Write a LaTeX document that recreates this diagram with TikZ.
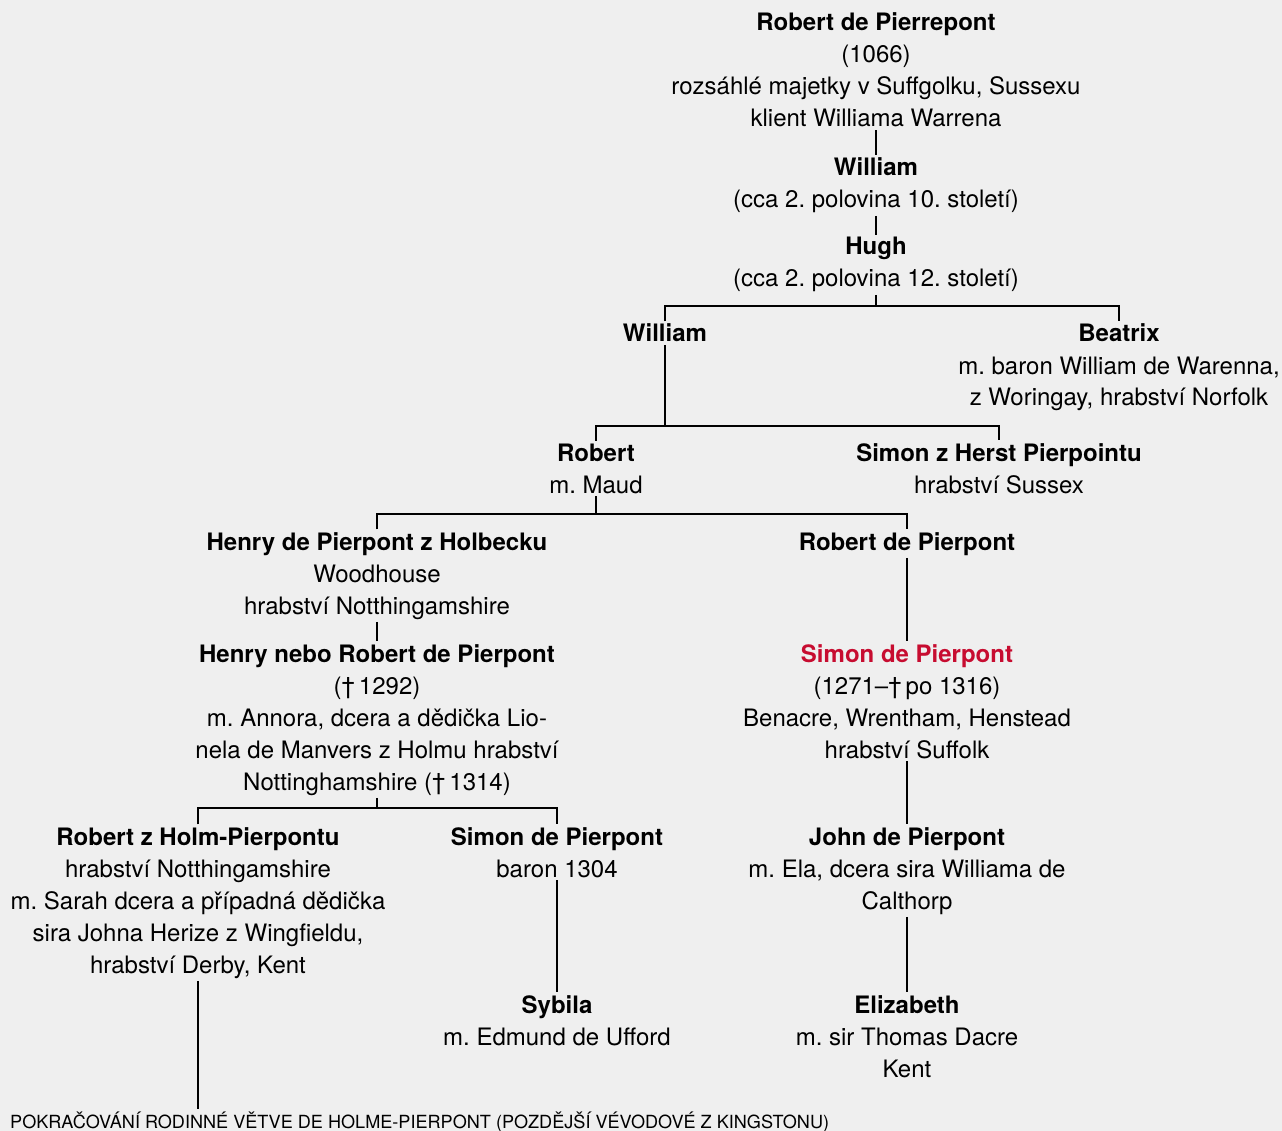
\documentclass[tikz,border=0pt]{standalone}
\usepackage{fontspec}
\setmainfont{TeX Gyre Heros}
\definecolor{bgcol}{HTML}{EFEFEF}
\definecolor{accent}{RGB}{199,12,48}
\frenchspacing
\begin{document}
\begin{tikzpicture}[x=1pt,y=-1pt,
  person/.style={align=center, anchor=base, inner xsep=0pt, inner ysep=2.5pt,
    font=\fontsize{24}{32}\selectfont\frenchspacing},
  link/.style={line width=2.4pt, draw=black}]
\fill[bgcol] (0,0) rectangle (1282,1131);
\useasboundingbox (0,0) rectangle (1282,1131);

% anchor=base of a multi-line node is the baseline of its last line
\node[person] (top) at (876,127) {\textbf{Robert de Pierrepont}\\(1066)\\rozsáhlé majetky v Suffgolku, Sussexu\\klient Williama Warrena};
\node[person] (william1) at (876,208) {\textbf{William}\\(cca 2. polovina 10. století)};
\node[person] (hugh) at (876,287) {\textbf{Hugh}\\(cca 2. polovina 12. století)};
\node[person] (william2) at (665,342) {\textbf{William}};
\node[person] (beatrix) at (1119,406) {\textbf{Beatrix}\\m. baron William de Warenna,\\z Woringay, hrabství Norfolk};
\node[person] (robert) at (596,493) {\textbf{Robert}\\m. Maud};
\node[person] (simonherst) at (999,493) {\textbf{Simon z Herst Pierpointu}\\hrabství Sussex};
\node[person] (henryh) at (377,614) {\textbf{Henry de Pierpont z Holbecku}\\Woodhouse\\hrabství Notthingamshire};
\node[person] (robertr) at (907,550) {\textbf{Robert de Pierpont}};
\node[person] (henryn) at (377,790) {\textbf{Henry nebo Robert de Pierpont}\\(†\,1292)\\m. Annora, dcera a dědička Lio-\\nela de Manvers z Holmu hrabství\\Nottinghamshire (†\,1314)};
\node[person] (simonred) at (907,758) {\textbf{\color{accent}Simon de Pierpont}\\(1271–†\,po 1316)\\Benacre, Wrentham, Henstead\\hrabství Suffolk};
\node[person] (robertholm) at (198,973) {\textbf{Robert z Holm-Pierpontu}\\hrabství Notthingamshire\\m. Sarah dcera a případná dědička\\sira Johna Herize z Wingfieldu,\\hrabství Derby, Kent};
\node[person] (simonbaron) at (557,877) {\textbf{Simon de Pierpont}\\baron 1304};
\node[person] (john) at (907,909) {\textbf{John de Pierpont}\\m. Ela, dcera sira Williama de\\Calthorp};
\node[person] (sybila) at (557,1045) {\textbf{Sybila}\\m. Edmund de Ufford};
\node[person] (elizabeth) at (907,1077) {\textbf{Elizabeth}\\m. sir Thomas Dacre\\Kent};
\node[anchor=base west, inner sep=2pt, font=\fontsize{18.1}{20}\selectfont] (cont) at (8,1128) {POKRAČOVÁNÍ RODINNÉ VĚTVE DE HOLME-PIERPONT (POZDĚJŠÍ VÉVODOVÉ Z KINGSTONU)};

\coordinate (bar1) at (0,306);
\coordinate (bar2) at (0,426);
\coordinate (bar3) at (0,514);
\coordinate (bar4) at (0,808);

\draw[link] (top.south) -- (william1.north);
\draw[link] (william1.south) -- (hugh.north);
\draw[link] (hugh.south) -- (hugh.south |- bar1);
\draw[link] (william2.north) -- (william2.north |- bar1) -- (beatrix.north |- bar1) -- (beatrix.north);
\draw[link] (william2.south) -- (william2.south |- bar2);
\draw[link] (robert.north) -- (robert.north |- bar2) -- (simonherst.north |- bar2) -- (simonherst.north);
\draw[link] (robert.south) -- (robert.south |- bar3);
\draw[link] (henryh.north) -- (henryh.north |- bar3) -- (robertr.north |- bar3) -- (robertr.north);
\draw[link] (henryh.south) -- (henryn.north);
\draw[link] (robertr.south) -- (simonred.north);
\draw[link] (henryn.south) -- (henryn.south |- bar4);
\draw[link] (robertholm.north) -- (robertholm.north |- bar4) -- (simonbaron.north |- bar4) -- (simonbaron.north);
\draw[link] (simonred.south) -- (john.north);
\draw[link] (simonbaron.south) -- (sybila.north);
\draw[link] (john.south) -- (elizabeth.north);
\draw[link] (robertholm.south) -- (robertholm.south |- cont.north);
\end{tikzpicture}
\end{document}
